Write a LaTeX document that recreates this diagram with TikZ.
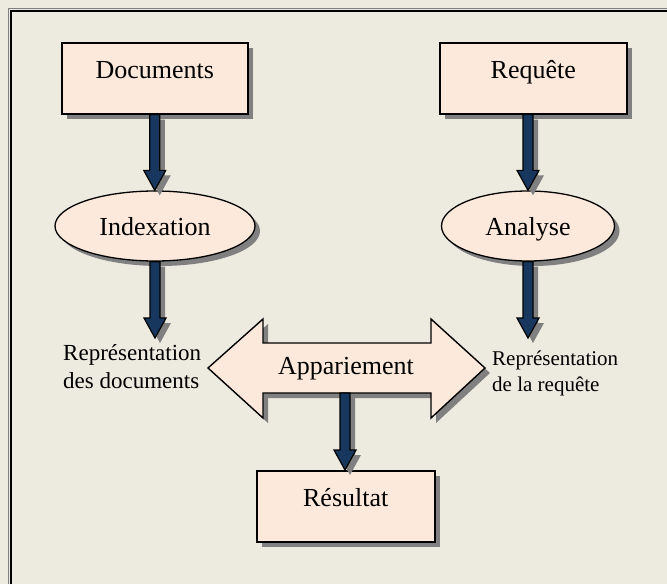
\documentclass[tikz,border=0pt]{standalone}
\usepackage{fontspec}
\setmainfont{Liberation Serif}
\usetikzlibrary{calc,shapes.geometric}
\definecolor{bg}{RGB}{237,234,224}
\definecolor{boxfill}{RGB}{253,233,219}
\definecolor{arrowblue}{RGB}{23,55,94}
\definecolor{shadowgray}{RGB}{128,128,128}
\tikzset{
  myshadow/.style={preaction={fill=shadowgray, draw=none, transform canvas={shift={(5pt,-5pt)}}}},
  box/.style={draw=black, line width=1.5pt, fill=boxfill, myshadow,
    inner sep=0pt, text height=36pt, text depth=35pt, align=center,
    font=\fontsize{26}{31}\selectfont},
  oval/.style={ellipse, draw=black, line width=1.3pt, fill=boxfill, myshadow,
    inner sep=0pt, minimum height=70pt, text height=18pt, text depth=0pt,
    font=\fontsize{26}{31}\selectfont},
  blockarrow/.style={draw=black, line width=1.2pt, fill=arrowblue, myshadow, line join=miter},
  dblarrow/.style={draw=black, line width=1.4pt, fill=boxfill, myshadow, line join=miter},
  lab/.style={inner sep=0pt, align=left},
}
\newcommand\vblock[2]{%
  \draw[blockarrow] let \p1=(#1), \p2=(#2) in
    (\x1-5pt,\y1) -- (\x1-5pt,\y2+20pt) -- (\x1-11pt,\y2+20pt) -- (\x1,\y2)
    -- (\x1+11pt,\y2+20pt) -- (\x1+5pt,\y2+20pt) -- (\x1+5pt,\y1) -- cycle;}
\begin{document}
\begin{tikzpicture}[x=1pt, y=-1pt]
\useasboundingbox (0,0) rectangle (667,584);
\fill[bg] (0,0) rectangle (667,584);
\draw[shadowgray, line width=1pt] (8.5,584) -- (8.5,8.5) -- (667,8.5);
\draw[black, line width=2.5pt] (11,584) -- (11,11) -- (667,11);

% boxes
\node[box, minimum width=186pt, anchor=north west] (doc) at (61,42) {Documents};
\node[box, minimum width=187pt, anchor=north west] (req) at (439,42) {Requête};
\node[box, minimum width=178pt, anchor=north west] (res) at (256,470) {Résultat};

% ellipses
\node[oval, minimum width=200pt] (ind) at (155,226) {Indexation};
\node[oval, minimum width=173pt] (ana) at (528,226) {Analyse};

% labels
\node[lab, font=\fontsize{23}{28}\selectfont, anchor=north west] (repd) at (63,344) {Représentation\\des documents};
\node[lab, font=\fontsize{21}{26}\selectfont, anchor=north west] (repq) at (492,351) {Représentation\\de la requête};

% double arrow (Appariement)
\draw[dblarrow] (208,368) -- (263,319) -- (263,343) -- (431,343) -- (431,319) -- (485,368)
  -- (431,418) -- (431,393) -- (263,393) -- (263,418) -- cycle;
\node[inner sep=0pt, text height=18pt, text depth=6pt, font=\fontsize{26}{31}\selectfont] (app) at (346,368) {Appariement};

% connector ends
\coordinate (rd) at (155,338);
\coordinate (rq) at (528,338);
\coordinate (appS) at (345,393);

% block arrows
\vblock{doc.south}{ind.north}
\vblock{ind.south}{rd}
\vblock{ana.north |- req.south}{ana.north}
\vblock{ana.south}{rq}
\vblock{appS}{res.north}
\end{tikzpicture}
\end{document}
